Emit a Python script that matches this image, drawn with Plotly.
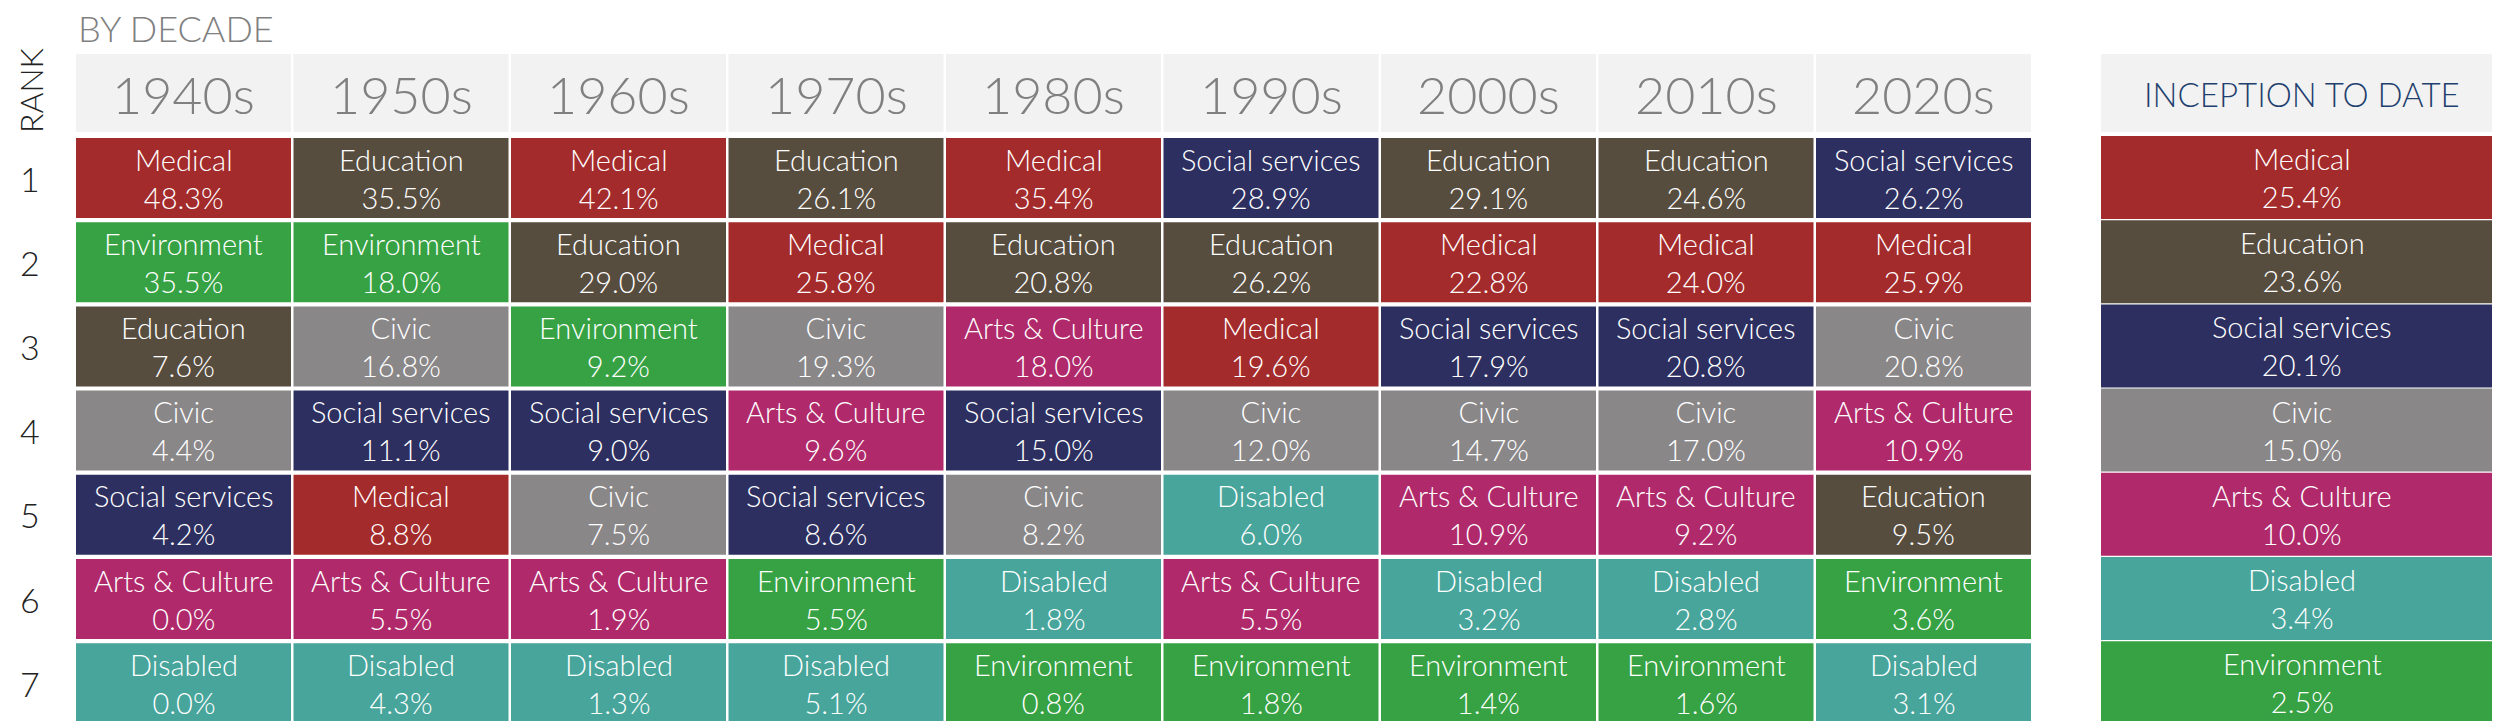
import plotly.graph_objects as go

decades = ["1940s", "1950s", "1960s", "1970s", "1980s", "1990s", "2000s", "2010s", "2020s"]
ranks = [1, 2, 3, 4, 5, 6, 7]

# causes per decade, ranked 1..7
causes = [
    ["Medical", "Environment", "Education", "Civic", "Social services", "Arts & Culture", "Disabled"],
    ["Education", "Environment", "Civic", "Social services", "Medical", "Arts & Culture", "Disabled"],
    ["Medical", "Education", "Environment", "Social services", "Civic", "Arts & Culture", "Disabled"],
    ["Education", "Medical", "Civic", "Arts & Culture", "Social services", "Environment", "Disabled"],
    ["Medical", "Education", "Arts & Culture", "Social services", "Civic", "Disabled", "Environment"],
    ["Social services", "Education", "Medical", "Civic", "Disabled", "Arts & Culture", "Environment"],
    ["Education", "Medical", "Social services", "Civic", "Arts & Culture", "Disabled", "Environment"],
    ["Education", "Medical", "Social services", "Civic", "Arts & Culture", "Disabled", "Environment"],
    ["Social services", "Medical", "Civic", "Arts & Culture", "Education", "Environment", "Disabled"],
]
shares = [
    [48.3, 35.5, 7.6, 4.4, 4.2, 0.0, 0.0],
    [35.5, 18.0, 16.8, 11.1, 8.8, 5.5, 4.3],
    [42.1, 29.0, 9.2, 9.0, 7.5, 1.9, 1.3],
    [26.1, 25.8, 19.3, 9.6, 8.6, 5.5, 5.1],
    [35.4, 20.8, 18.0, 15.0, 8.2, 1.8, 0.8],
    [28.9, 26.2, 19.6, 12.0, 6.0, 5.5, 1.8],
    [29.1, 22.8, 17.9, 14.7, 10.9, 3.2, 1.4],
    [24.6, 24.0, 20.8, 17.0, 9.2, 2.8, 1.6],
    [26.2, 25.9, 20.8, 10.9, 9.5, 3.6, 3.1],
]
itd_causes = ["Medical", "Education", "Social services", "Civic", "Arts & Culture", "Disabled", "Environment"]
itd_shares = [25.4, 23.6, 20.1, 15.0, 10.0, 3.4, 2.5]

colors = {
    "Medical": "#A42B2C",
    "Education": "#574D3F",
    "Environment": "#36A244",
    "Civic": "#8A8789",
    "Social services": "#2D2F60",
    "Arts & Culture": "#B02A6B",
    "Disabled": "#47A59B",
}

FONT = "Lato Light, Lato"
col_x0, col_pitch, col_w = 68, 217.5, 215
row_y0, row_pitch, row_h = 130, 84.2, 80
hdr_y0, hdr_y1 = 46, 124
itd_x0, itd_x1 = 2093, 2495

shapes, ann = [], []


def cell(x0, x1, y0, y1, color):
    shapes.append(dict(type="rect", x0=x0, x1=x1, y0=y0, y1=y1, fillcolor=color,
                       line=dict(width=0), layer="below"))


def label(x, y, text, size, color, **kw):
    ann.append(dict(x=x, y=y, text=text, showarrow=False, xref="x", yref="y",
                    font=dict(family=FONT, size=size, color=color), **kw))


for i, dec in enumerate(decades):
    x0 = col_x0 + i * col_pitch
    x1 = x0 + col_w
    cell(x0, x1, hdr_y0, hdr_y1, "#F2F2F2")
    label((x0 + x1) / 2, (hdr_y0 + hdr_y1) / 2 + 1, dec, 52, "#808080")
    for r in range(len(ranks)):
        y0 = row_y0 + r * row_pitch
        c = causes[i][r]
        cell(x0, x1, y0, y0 + row_h, colors[c])
        label((x0 + x1) / 2, y0 + row_h / 2,
              f"{c}<br>{shares[i][r]:.1f}%", 29, "white")

cell(itd_x0, itd_x1, hdr_y0, hdr_y1, "#F2F2F2")
label((itd_x0 + itd_x1) / 2, (hdr_y0 + hdr_y1) / 2 + 1, "INCEPTION TO DATE", 33, "#1F3F6E")
for r in range(len(ranks)):
    y0 = row_y0 + r * row_pitch - 2
    c = itd_causes[r]
    cell(itd_x0, itd_x1, y0, y0 + row_h + 3, colors[c])
    label((itd_x0 + itd_x1) / 2, y0 + (row_h + 3) / 2,
          f"{c}<br>{itd_shares[r]:.1f}%", 29, "white")

for r, rk in enumerate(ranks):
    label(22, row_y0 + r * row_pitch + row_h / 2, str(rk), 34, "#222222")
label(22, 82, "RANK", 32, "#222222", textangle=-90)
label(68, 20, "BY DECADE", 36, "#808080", xanchor="left")

fig = go.Figure()
fig.update_layout(
    width=2500, height=721, margin=dict(l=0, r=0, t=0, b=0),
    paper_bgcolor="white", plot_bgcolor="white",
    xaxis=dict(range=[0, 2500], visible=False),
    yaxis=dict(range=[721, 0], visible=False),
    shapes=shapes, annotations=ann, showlegend=False,
)
fig.write_html("out.html")
